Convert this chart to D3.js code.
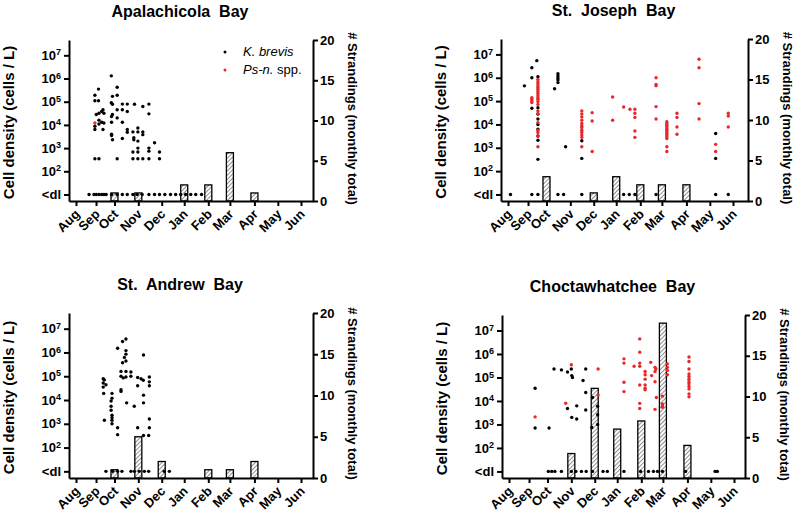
<!doctype html>
<html lang="en">
<head>
<meta charset="utf-8">
<script src="https://d3js.org/d3.v7.min.js"></script>
<style>
  body { margin: 0; background: #fff; }
  svg text { font-family: "Liberation Sans", Arial, sans-serif; }
  .axis path, .axis line { stroke: #000; stroke-width: 2; }
  .axis text { font-weight: bold; fill: #000; }
</style>
</head>
<body>
<svg width="795" height="514"></svg>
<script>
// month axis: Aug .. Jun, tick positions in month units (Aug = 0)
var months = ["Aug", "Sep", "Oct", "Nov", "Dec", "Jan", "Feb", "Mar", "Apr", "May", "Jun"];
var monthPos = [0, 0.89, 1.71, 2.77, 3.81, 4.81, 5.88, 6.84, 7.93, 8.97, 10];
var DL = 10; // plotted value for "<dl"

// Apalachicola Bay
var apalKb = [
  [1.57,1.3e6],[1.83,4.2e5],[1.00,3.5e5],[0.84,1.9e5],[1.62,1.7e5],[1.83,1.9e5],
  [0.84,1.1e5],[1.00,1.1e5],[1.57,9.1e4],[1.62,7.8e4],[2.06,7.9e4],[2.28,7.9e4],
  [2.60,7.8e4],[2.97,6.2e4],[3.24,7.9e4],[1.83,4.5e4],[2.06,4.5e4],[2.28,3.8e4],
  [1.20,4.5e4],[1.14,3.8e4],[1.24,3.2e4],[1.02,3.2e4],[0.90,2.8e4],[1.62,2.8e4],
  [1.58,2.3e4],[1.83,2.0e4],[3.24,3.0e4],[1.02,1.6e4],[1.14,1.3e4],[1.24,1.2e4],
  [1.02,1.1e4],[0.84,8.7e3],[0.84,6.3e3],[1.20,6.3e3],[1.58,1.3e4],[1.58,4.0e3],
  [2.06,1.3e4],[2.28,6.3e3],[2.28,4.8e3],[2.53,5.0e3],[2.75,5.0e3],[2.97,5.0e3],
  [2.97,3.8e3],[2.75,7.4e3],[1.58,3.5e3],[1.62,2.3e3],[2.06,2.6e3],[2.57,2.8e3],
  [2.57,2.3e3],[2.75,2.0e3],[3.49,1.7e3],[2.75,1.0e3],[3.24,1.0e3],[3.24,740],
  [3.71,680],[2.53,680],[2.75,680],
  [0.84,350],[1.02,350],[1.83,350],[2.53,350],[2.75,350],[2.97,350],[3.24,350],[3.71,350]
];
var apalKbDl = [0.58,0.80,0.90,1.02,1.14,1.24,1.34,1.58,1.83,2.06,2.28,2.53,2.72,2.94,
  3.24,3.49,3.71,3.95,4.20,4.43,4.65,4.87,5.10,5.32,5.58];
var apalPs = [[0.84,1.2e4]];
var apalBars = [0,0,1,1,0,2,2,6,1,0,0];

// St. Joseph Bay
var josKb = [
  [1.28,5.4e6],[1.06,2.7e6],[1.06,1.0e6],[1.33,1.1e6],[0.73,4.5e5],[1.06,4.9e4],
  [1.33,5.2e4],[1.33,2.8e4],[1.33,1.7e4],[1.33,1.0e4],[1.33,6.3e3],[1.33,3.2e3],
  [1.33,2.1e3],[1.33,320],[2.22,1.5e6],[2.22,1.2e6],[2.22,9.8e5],[2.22,8.1e5],
  [2.22,6.2e5],[2.07,3.4e5],[2.56,1.1e3],[3.28,2.0e3],[3.28,350],[9.23,4.1e3],[9.23,350]
];
var josKbDl = [0.11,1.06,1.33,2.22,2.47,3.28,5.14,5.39,5.64,6.58,9.23,9.79];
var josPs = [
  [1.06,1.4e5],[1.06,1.2e5],[1.06,1.0e5],[1.06,8.7e4],
  [1.33,8.5e5],[1.33,6.8e5],[1.33,5.6e5],[1.33,4.5e5],[1.33,3.8e5],[1.33,3.2e5],
  [1.33,2.6e5],[1.33,2.1e5],[1.33,1.7e5],[1.33,1.4e5],[1.33,1.2e5],[1.33,9.5e4],
  [1.33,7.2e4],[1.33,3.8e4],[1.33,2.8e4],[1.33,1.2e4],[1.33,5.6e3],[1.33,4.5e3],
  [1.33,3.2e3],[1.33,1.1e3],
  [3.28,3.8e4],[3.28,2.8e4],[3.28,2.1e4],[3.28,1.5e4],[3.28,1.1e4],[3.28,8.7e3],
  [3.28,7.4e3],[3.28,5.6e3],[3.28,4.5e3],[3.28,3.5e3],[3.28,2.8e3],[3.28,1.1e3],
  [3.74,3.2e4],[3.74,1.4e4],[3.74,690],[4.65,1.5e5],[4.65,1.5e4],
  [5.14,5.6e4],[5.42,4.5e4],
  [5.64,4.5e4],[5.64,3.0e4],[5.64,2.0e4],[5.64,5.2e3],[5.64,2.8e3],
  [6.58,1.0e6],[6.58,5.2e5],[6.58,4.5e5],[6.58,5.8e4],[6.58,1.7e4],
  [7.06,1.3e4],[7.06,1.1e4],[7.06,9.3e3],[7.06,7.8e3],[7.06,6.6e3],[7.06,5.6e3],
  [7.06,4.8e3],[7.06,4.1e3],[7.06,3.5e3],[7.06,3.0e3],[7.06,2.5e3],[7.06,1.1e3],[7.06,690],
  [7.51,3.0e4],[7.51,2.0e4],[7.51,7.8e3],[7.51,3.8e3],
  [8.49,6.2e6],[8.49,2.7e6],[8.49,7.8e4],[8.49,1.7e4],
  [9.23,1.4e3],[9.23,690],[9.79,3.0e4],[9.79,2.3e4],[9.79,7.8e3]
];
var josBars = [0,0,3,0,1,3,2,2,2,0,0];

// St. Andrew Bay
var andKb = [
  [2.22,3.7e6],[2.07,2.9e6],[1.85,1.5e6],[2.22,1.2e6],[2.22,8.5e5],[2.15,6.2e5],
  [2.22,4.4e5],[2.07,3.7e5],[3.00,7.8e5],[2.00,1.6e5],[2.22,1.6e5],[2.44,1.5e5],
  [2.44,1.0e5],[2.00,1.0e5],[2.22,9.3e4],[2.10,8.5e4],[2.74,8.9e4],[2.89,7.8e4],
  [2.99,6.8e4],[3.26,9.3e4],[3.26,5.8e4],[3.26,4.0e4],[1.21,7.8e4],[1.26,7.0e4],
  [1.21,5.2e4],[1.33,4.4e4],[1.21,3.5e4],[2.00,2.7e4],[2.00,2.3e4],[2.74,4.0e4],
  [1.23,1.9e4],[1.60,1.9e4],[1.60,1.2e4],[1.56,9.1e3],[3.00,1.6e4],[3.00,7.6e3],
  [2.25,7.6e3],[2.59,5.5e3],[1.56,5.5e3],[1.56,3.7e3],[1.60,2.3e3],[1.60,1.8e3],
  [1.60,1.4e3],[1.26,1.4e3],[1.60,1.0e3],[1.85,680],[3.26,1.6e3],[3.26,680],
  [2.74,680],[1.85,350],[3.00,320],[3.23,320]
];
var andKbDl = [1.33,1.63,1.85,2.04,2.44,2.59,2.81,3.04,3.23,3.92,4.15];
var andPs = [];
var andBars = [0,0,1,5,2,0,1,1,2,0,0];

// Choctawhatchee Bay
var choKb = [
  [1.16,3.5e4],[1.16,710],[1.78,710],[2.00,2.3e5],[2.33,2.1e5],[2.60,1.7e5],
  [2.77,2.3e5],[2.79,1.2e5],[2.82,1.0e5],[3.41,2.3e5],[3.29,7.4e4],[2.60,4.8e3],
  [3.01,6.2e3],[2.79,2.0e3],[3.01,1.7e3],[3.41,2.3e4],[3.41,4.1e3],[3.71,1.4e4],
  [3.94,6.0e3],[3.94,2.6e3],[3.94,1.0e3],[3.68,740]
];
var choKbDl = [1.75,1.90,2.04,2.33,2.77,2.97,3.22,3.43,3.71,4.18,4.37,5.11,5.85,6.20,
  6.42,6.60,6.82,7.85,9.16,9.26];
var choPs = [
  [1.16,2.1e3],[2.77,3.5e5],[2.52,8.0e3],[3.96,2.3e5],[3.96,1.8e4],
  [5.11,6.2e5],[5.11,4.1e5],[5.11,6.3e4],[5.11,2.5e4],[5.56,3.0e5],
  [5.81,4.4e6],[5.81,1.2e6],[5.81,4.1e5],[5.81,3.0e5],[5.81,4.8e4],[5.81,7.9e3],[5.81,4.8e3],
  [6.05,1.8e5],[6.05,1.3e5],[6.05,8.5e4],[6.05,4.8e4],[6.05,3.5e4],[6.05,3.0e4],
  [6.30,4.4e5],[6.34,1.2e5],[6.49,2.7e5],[6.53,2.3e5],[6.49,1.8e5],[6.49,6.6e4],
  [6.55,1.4e4],[6.49,4.4e3],[6.82,1.6e4],[6.82,7.4e3],[6.82,6.0e3],[6.82,5.4e3],
  [7.04,3.8e5],[7.04,2.7e5],[7.04,2.0e5],[7.04,1.3e5],
  [8.00,7.4e5],[8.00,4.8e5],[8.00,2.3e5],[8.00,1.4e5],[8.00,1.1e5],[8.00,8.5e4],
  [8.00,6.6e4],[8.00,5.4e4],[8.00,4.1e4],[8.00,3.2e4],[8.00,2.0e4],[8.00,1.5e4]
];
var choBars = [0,0,0,3,11,6,7,19,4,0,0];

var panels = [
  {title: "Apalachicola  Bay", kb: apalKb, kbDl: apalKbDl, ps: apalPs, bars: apalBars,
   box: {x: 69, y: 40, w: 244, h: 161}, legend: true},
  {title: "St.  Joseph  Bay", kb: josKb, kbDl: josKbDl, ps: josPs, bars: josBars,
   box: {x: 501, y: 39, w: 247, h: 162}},
  {title: "St.  Andrew  Bay", kb: andKb, kbDl: andKbDl, ps: andPs, bars: andBars,
   box: {x: 69, y: 313, w: 244, h: 165}},
  {title: "Choctawhatchee  Bay", kb: choKb, kbDl: choKbDl, ps: choPs, bars: choBars,
   box: {x: 502, y: 315, w: 243, h: 163}}
];

var svg = d3.select("svg");
var RED = "#e8282b";

svg.append("defs").append("pattern")
    .attr("id", "hatch")
    .attr("patternUnits", "userSpaceOnUse")
    .attr("width", 3).attr("height", 3)
    .attr("patternTransform", "rotate(45)")
  .append("line")
    .attr("x1", 0).attr("y1", 0).attr("x2", 0).attr("y2", 3)
    .attr("stroke", "#333").attr("stroke-width", 1.1);

panels.forEach(function(p) {
  var b = p.box;
  var g = svg.append("g").attr("transform", "translate(" + b.x + "," + b.y + ")");

  var x = d3.scaleLinear().domain([-7 / 22.5, (b.w - 7) / 22.5]).range([0, b.w]);
  var y = d3.scaleLog().domain([Math.pow(10, 0.72), Math.pow(10, 7.66)]).range([b.h, 0]);
  var yR = d3.scaleLinear().domain([0, 20]).range([b.h, 0]);

  // strandings bars
  var barData = p.bars.map(function(v, i) { return {pos: monthPos[i], n: v}; })
      .filter(function(d) { return d.n > 0; });
  g.selectAll(".bar")
    .data(barData)
    .enter().append("rect")
      .attr("class", "bar")
      .attr("x", function(d) { return x(d.pos) - 3.5; })
      .attr("y", function(d) { return yR(d.n); })
      .attr("width", 7)
      .attr("height", function(d) { return b.h - yR(d.n); })
      .attr("fill", "url(#hatch)")
      .attr("stroke", "#000")
      .attr("stroke-width", 1.3);

  // cell density points
  g.selectAll(".dl")
    .data(p.kbDl)
    .enter().append("circle")
      .attr("cx", function(d) { return x(d); })
      .attr("cy", y(DL))
      .attr("r", 1.7)
      .attr("fill", "#000");
  g.selectAll(".kb")
    .data(p.kb)
    .enter().append("circle")
      .attr("cx", function(d) { return x(d[0]); })
      .attr("cy", function(d) { return y(d[1]); })
      .attr("r", 1.7)
      .attr("fill", "#000");
  g.selectAll(".ps")
    .data(p.ps)
    .enter().append("circle")
      .attr("cx", function(d) { return x(d[0]); })
      .attr("cy", function(d) { return y(d[1]); })
      .attr("r", 1.7)
      .attr("fill", RED);

  // axes
  var gy = g.append("g").attr("class", "axis")
    .call(d3.axisLeft(y).tickValues([DL, 1e2, 1e3, 1e4, 1e5, 1e6, 1e7]).tickSize(5).tickSizeOuter(0).tickPadding(3));
  gy.selectAll(".tick text").style("font-size", "13px").each(function(d) {
    var t = d3.select(this).text("");
    if (d === DL) { t.text("<dl"); return; }
    t.append("tspan").text("10");
    t.append("tspan").attr("dy", "-0.5em").style("font-size", "9px").text(Math.round(Math.log10(d)));
  });

  var gr = g.append("g").attr("class", "axis")
    .attr("transform", "translate(" + b.w + ",0)")
    .call(d3.axisRight(yR).tickValues([0, 5, 10, 15, 20]).tickSize(5).tickSizeOuter(0).tickPadding(2));
  gr.selectAll(".tick text").style("font-size", "13px");

  var gx = g.append("g").attr("class", "axis")
    .attr("transform", "translate(0," + b.h + ")")
    .call(d3.axisBottom(x).tickValues(monthPos).tickFormat(function(d, i) { return months[i]; })
      .tickSize(5).tickSizeOuter(0));
  gx.selectAll(".tick text")
    .style("font-size", "13px")
    .attr("text-anchor", "end")
    .attr("x", 0).attr("y", 0).attr("dy", 0)
    .attr("transform", "translate(4,14) rotate(-45)");

  // titles and axis labels
  g.append("text")
    .attr("x", b.w / 2 - 11)
    .attr("y", -23)
    .attr("text-anchor", "middle")
    .style("white-space", "pre")
    .style("font-size", "16px")
    .style("font-weight", "bold")
    .text(p.title);
  g.append("text")
    .attr("transform", "translate(-55," + (b.h / 2 + 2) + ") rotate(-90)")
    .attr("text-anchor", "middle")
    .style("font-size", "15px")
    .style("font-weight", "bold")
    .text("Cell density (cells / L)");
  g.append("text")
    .attr("transform", "translate(" + (b.w + 35) + "," + (b.h / 2 - 2) + ") rotate(90)")
    .attr("text-anchor", "middle")
    .style("font-size", "13px")
    .style("font-weight", "bold")
    .text("# Strandings (monthly total)");

  if (p.legend) {
    var lg = g.append("g").attr("transform", "translate(156,0)");
    lg.append("circle").attr("cx", 0).attr("cy", 12).attr("r", 1.5).attr("fill", "#000");
    lg.append("circle").attr("cx", 0).attr("cy", 30).attr("r", 1.5).attr("fill", RED);
    lg.append("text").attr("x", 18).attr("y", 16).style("font-size", "13px")
      .style("font-style", "italic").text("K. brevis");
    var t2 = lg.append("text").attr("x", 18).attr("y", 34).style("font-size", "13px");
    t2.append("tspan").style("font-style", "italic").text("Ps-n.");
    t2.append("tspan").text(" spp.");
  }
});
</script>
</body>
</html>
